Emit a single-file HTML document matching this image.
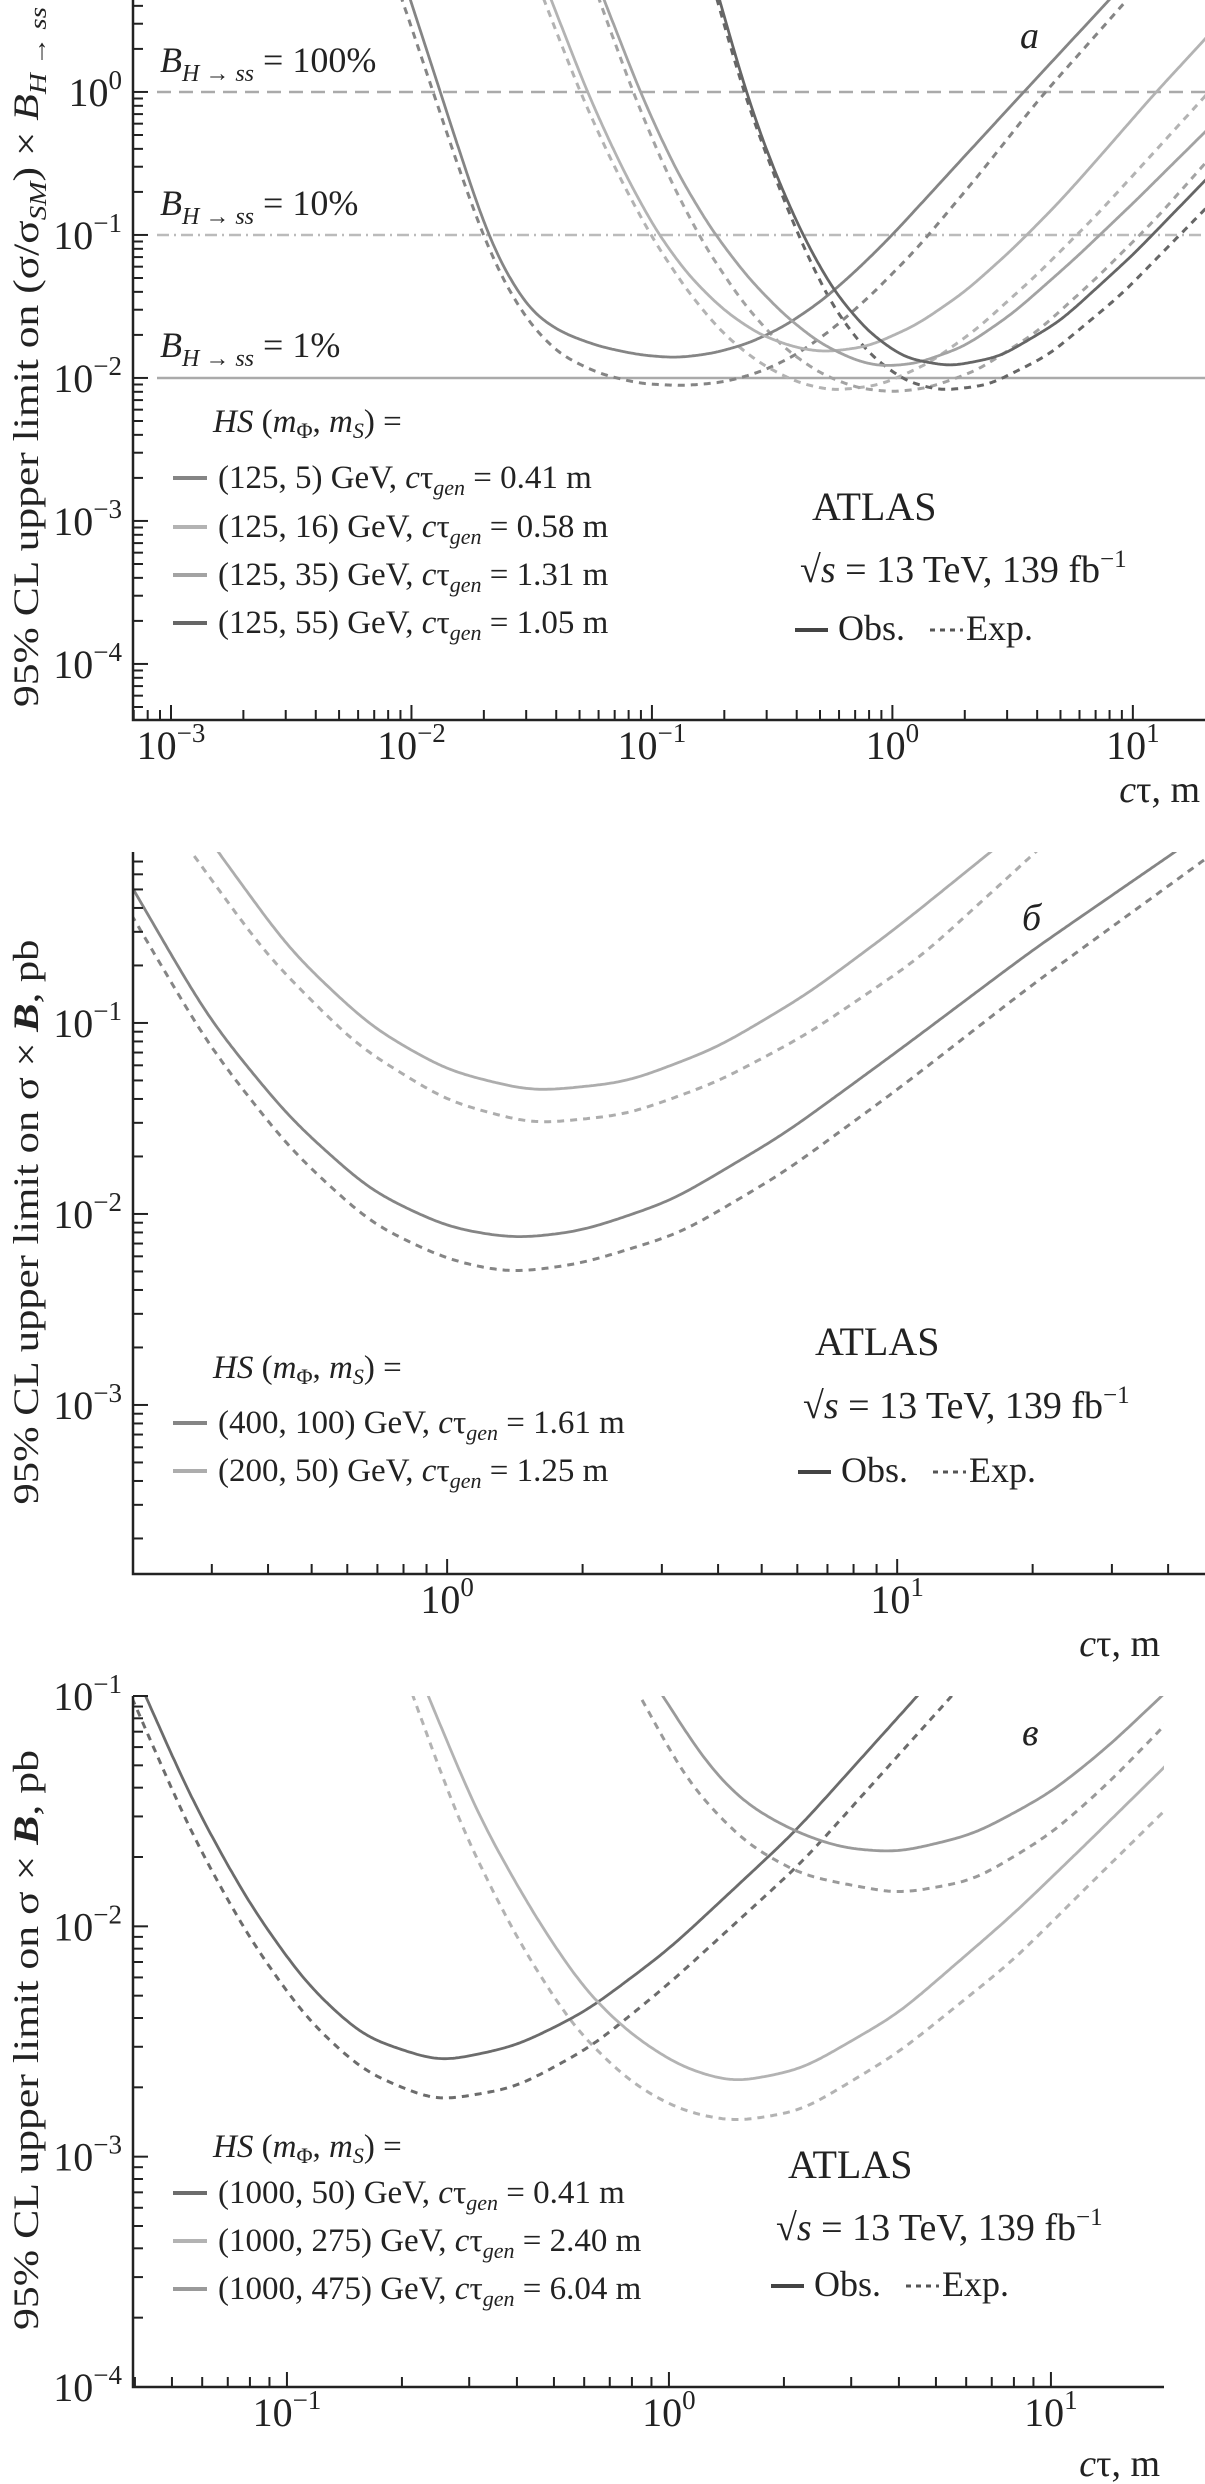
<!DOCTYPE html>
<html><head><meta charset="utf-8"><title>ATLAS limits</title>
<style>
html,body{margin:0;padding:0;background:#fff;}
svg{display:block;font-family:"Liberation Serif",serif;}
text{fill:#222;}
</style></head>
<body>
<svg id="fig" width="1205" height="2484" viewBox="0 0 1205 2484" xmlns="http://www.w3.org/2000/svg">
<defs>
<clipPath id="clipA"><rect x="133" y="0" width="1072" height="720"/></clipPath>
<clipPath id="clipB"><rect x="133" y="852" width="1072" height="722"/></clipPath>
<clipPath id="clipC"><rect x="133" y="1696" width="1031" height="691"/></clipPath>
</defs>
<g id="layer"></g>

<g font-size="36">
<text x="160" y="72"><tspan font-style="italic">B</tspan><tspan font-size="24" dy="9" font-style="italic">H → ss</tspan><tspan dy="-9"> = 100%</tspan></text>
<text x="160" y="215"><tspan font-style="italic">B</tspan><tspan font-size="24" dy="9" font-style="italic">H → ss</tspan><tspan dy="-9"> = 10%</tspan></text>
<text x="160" y="357"><tspan font-style="italic">B</tspan><tspan font-size="24" dy="9" font-style="italic">H → ss</tspan><tspan dy="-9"> = 1%</tspan></text>
<text x="1020" y="48" font-style="italic" font-size="38">a</text>
</g>
</svg>

<script>
// ---------------- Panel a data (log10 cτ [m], log10 limit) ----------------
const aRefLines = [0, -1, -2];
const aC1ObsX = [-2.0,-1.88,-1.78,-1.69,-1.6,-1.5,-1.38,-1.22,-1.05,-0.9,-0.75,-0.6,-0.45,-0.3,-0.15,0,0.3,0.53,0.85];
const aC1ObsY = [0.62,0,-0.52,-0.97,-1.29,-1.54,-1.68,-1.78,-1.84,-1.86,-1.83,-1.76,-1.64,-1.47,-1.25,-1.0,-0.45,-0.03,0.55];
const aC1ExpX = [-2.02,-1.9,-1.8,-1.7,-1.6,-1.5,-1.38,-1.22,-1.05,-0.87,-0.7,-0.55,-0.4,-0.25,-0.1,0.1,0.35,0.61,0.9];
const aC1ExpY = [0.55,-0.05,-0.55,-1.02,-1.38,-1.64,-1.84,-1.97,-2.04,-2.055,-2.03,-1.96,-1.84,-1.66,-1.44,-1.1,-0.6,-0.05,0.5];
const aC2ObsX = [-1.42,-1.27,-1.12,-0.98,-0.85,-0.7,-0.55,-0.4,-0.28,-0.1,0.1,0.3,0.5,0.7,0.9,1.07,1.3];
const aC2ObsY = [0.65,0,-0.55,-0.98,-1.28,-1.53,-1.7,-1.79,-1.82,-1.78,-1.63,-1.4,-1.1,-0.76,-0.38,-0.05,0.37];
const aC2ExpX = [-1.45,-1.3,-1.15,-1.0,-0.85,-0.7,-0.55,-0.4,-0.25,-0.05,0.15,0.35,0.6,0.85,1.1,1.3];
const aC2ExpY = [0.65,0,-0.55,-1.02,-1.4,-1.7,-1.9,-2.03,-2.09,-2.05,-1.9,-1.66,-1.28,-0.86,-0.4,-0.03];
const aC3ObsX = [-1.2,-1.05,-0.9,-0.75,-0.6,-0.45,-0.3,-0.15,-0.05,0.1,0.3,0.5,0.75,1.0,1.3];
const aC3ObsY = [0.65,0,-0.55,-0.97,-1.3,-1.56,-1.76,-1.88,-1.92,-1.9,-1.78,-1.55,-1.18,-0.78,-0.28];
const aC3ExpX = [-1.22,-1.08,-0.93,-0.78,-0.62,-0.46,-0.3,-0.15,0,0.15,0.35,0.6,0.85,1.1,1.3];
const aC3ExpY = [0.65,0,-0.6,-1.08,-1.48,-1.78,-1.97,-2.07,-2.1,-2.07,-1.95,-1.68,-1.3,-0.88,-0.5];
const aC4ObsX = [-0.72,-0.61,-0.5,-0.38,-0.25,-0.1,0.05,0.24,0.45,0.7,1.0,1.3];
const aC4ObsY = [0.65,0,-0.52,-0.98,-1.38,-1.68,-1.86,-1.92,-1.85,-1.6,-1.14,-0.62];
const aC4ExpX = [-0.73,-0.62,-0.5,-0.38,-0.25,-0.1,0.05,0.2,0.4,0.65,0.95,1.3];
const aC4ExpY = [0.65,0,-0.55,-1.05,-1.5,-1.83,-2.02,-2.09,-2.05,-1.84,-1.42,-0.82];
const aLegendLabels = ["(125, 5) GeV, ","(125, 16) GeV, ","(125, 35) GeV, ","(125, 55) GeV, "];
const aLegendCtau = ["0.41 m","0.58 m","1.31 m","1.05 m"];

// ---------------- Panel б data ----------------
const bAObsX = [-0.70,-0.53,-0.35,-0.17,0.0,0.15,0.3,0.5,0.75,1.0,1.3,1.62];
const bAObsY = [-0.29,-0.98,-1.5,-1.88,-2.07,-2.13,-2.09,-1.93,-1.58,-1.15,-0.62,-0.1];
const bAExpX = [-0.70,-0.53,-0.35,-0.17,0,0.14,0.3,0.52,0.75,1.0,1.3,1.68];
const bAExpY = [-0.44,-1.12,-1.66,-2.05,-2.24,-2.31,-2.26,-2.1,-1.78,-1.35,-0.8,-0.15];
const bBObsX = [-0.51,-0.35,-0.17,0,0.19,0.4,0.6,0.8,1.0,1.21];
const bBObsY = [-0.1,-0.62,-1.02,-1.25,-1.36,-1.31,-1.13,-0.85,-0.5,-0.1];
const bBExpX = [-0.57,-0.4,-0.2,0,0.19,0.4,0.6,0.8,1.05,1.31];
const bBExpY = [-0.1,-0.65,-1.12,-1.41,-1.53,-1.48,-1.31,-1.06,-0.66,-0.1];
const bLegendLabels = ["(400, 100) GeV, ","(200, 50) GeV, "];
const bLegendCtau = ["1.61 m","1.25 m"];

// ---------------- Panel в data ----------------
const cDObsX = [-1.37,-1.25,-1.1,-0.95,-0.8,-0.6,-0.4,-0.217,0,0.33,0.65];
const cDObsY = [-1,-1.45,-1.9,-2.25,-2.48,-2.59,-2.52,-2.37,-2.1,-1.59,-1.0];
const cDExpX = [-1.40,-1.25,-1.1,-0.95,-0.8,-0.61,-0.4,-0.2,0,0.35,0.74];
const cDExpY = [-1.03,-1.6,-2.05,-2.4,-2.63,-2.76,-2.7,-2.52,-2.25,-1.72,-1.0];
const cEObsX = [-0.63,-0.5,-0.35,-0.22,-0.1,0.03,0.168,0.35,0.6,0.9,1.1,1.29];
const cEObsY = [-1,-1.52,-1.96,-2.28,-2.47,-2.61,-2.68,-2.62,-2.38,-1.95,-1.63,-1.32];
const cEExpX = [-0.67,-0.55,-0.4,-0.25,-0.1,0.03,0.17,0.35,0.6,0.9,1.1,1.29];
const cEExpY = [-1,-1.55,-2.05,-2.44,-2.68,-2.8,-2.85,-2.8,-2.55,-2.15,-1.82,-1.51];
const cFObsX = [-0.016,0.1,0.2,0.33,0.45,0.6,0.8,1.0,1.15,1.29];
const cFObsY = [-1,-1.3,-1.47,-1.59,-1.66,-1.68,-1.6,-1.42,-1.22,-1.0];
const cFExpX = [-0.076,0.05,0.2,0.35,0.6,0.8,1.0,1.15,1.29];
const cFExpY = [-1,-1.38,-1.64,-1.78,-1.86,-1.8,-1.6,-1.38,-1.14];
const cLegendLabels = ["(1000, 50) GeV, ","(1000, 275) GeV, ","(1000, 475) GeV, "];
const cLegendCtau = ["0.41 m","2.40 m","6.04 m"];

const NS = "http://www.w3.org/2000/svg";
const layer = document.getElementById("layer");
function mk(tag, attrs, parent){ const e=document.createElementNS(NS,tag); for(const k in attrs) e.setAttribute(k,attrs[k]); (parent||layer).appendChild(e); return e; }

function makeAxes(p){
  p.X = u => p.x0 + (u - p.umin)/(p.umax - p.umin)*(p.x1 - p.x0);
  p.Y = v => p.y1 - (v - p.vmin)/(p.vmax - p.vmin)*(p.y1 - p.y0);
  return p;
}

function linVal(xs, ys, u){
  const n = xs.length;
  if(u <= xs[0]) return ys[0] + (u-xs[0])*(ys[1]-ys[0])/(xs[1]-xs[0]);
  if(u >= xs[n-1]) return ys[n-1] + (u-xs[n-1])*(ys[n-1]-ys[n-2])/(xs[n-1]-xs[n-2]);
  for(let i=0;i<n-1;i++){
    if(u <= xs[i+1]) return ys[i] + (u-xs[i])*(ys[i+1]-ys[i])/(xs[i+1]-xs[i]);
  }
  return ys[n-1];
}

function smoothPath(p, xs, ys){
  const sigma = 0.045, h = 0.01, K = 14;
  const w = []; let ws = 0;
  for(let k=-K;k<=K;k++){ const t = Math.exp(-0.5*Math.pow(k*h/sigma,2)); w.push(t); ws += t; }
  const u0 = xs[0]-0.06, u1 = xs[xs.length-1]+0.06;
  let d = "";
  for(let u=u0; u<=u1+1e-9; u+=0.005){
    let s = 0;
    for(let k=-K;k<=K;k++) s += w[k+K]*linVal(xs,ys,u+k*h);
    s /= ws;
    d += (d===""?"M":" L") + p.X(u).toFixed(1)+","+p.Y(s).toFixed(1);
  }
  return d;
}

function drawCurve(p, g, xs, ys, color, dashed, name){
  const path = mk("path",{d:smoothPath(p,xs,ys),fill:"none",stroke:color,"stroke-width":dashed?3:2.8,"stroke-dasharray":dashed?"7 6":"none","stroke-linejoin":"round"},g);
  
  
}

function expLabel(x, y, e, anchor, parent, name){
  const t = mk("text",{x:x,y:y,"font-size":40,"text-anchor":anchor},parent);
  
  
  const a = mk("tspan",{},t); a.textContent="10";
  const b = mk("tspan",{dy:-17,"font-size":27},t); b.textContent = e<0 ? "−"+(-e) : String(e);
  return t;
}

function drawAxes(p, gname){
  const g = mk("g",{});
  
  
  const ax = mk("path",{d:`M${p.x0},${p.y0} V${p.y1} H${p.x1}`,fill:"none",stroke:"#222","stroke-width":2.5},g);
  
  
  for(let d=Math.floor(p.umin); d<=Math.ceil(p.umax); d++){
    for(let k=1;k<=9;k++){
      const u = d+Math.log10(k);
      if(u<p.umin-1e-6 || u>p.umax) continue;
      const x=p.X(u), len = k===1?15:10;
      mk("line",{x1:x,y1:p.y1,x2:x,y2:p.y1-len,stroke:"#222","stroke-width":2},g);
      if(k===1) expLabel(x, p.y1+39, d, "middle", g, "x-tick-label");
    }
  }
  for(let d=Math.floor(p.vmin); d<=Math.ceil(p.vmax); d++){
    for(let k=1;k<=9;k++){
      const v = d+Math.log10(k);
      if(v<p.vmin || v>p.vmax+1e-6) continue;
      const y=p.Y(v), len = k===1?15:10;
      mk("line",{x1:p.x0,y1:y,x2:p.x0+len,y2:y,stroke:"#222","stroke-width":2},g);
      if(k===1 && p.showY(d)) expLabel(122, y+14, d, "end", g, "y-tick-label");
    }
  }
  const xt = mk("text",{x:p.xtitleX,y:p.xtitleY,"font-size":38,"text-anchor":"end"},g);
  
  
  const c1 = mk("tspan",{"font-style":"italic"},xt); c1.textContent="c";
  const c2 = mk("tspan",{},xt); c2.textContent="τ, m";
  return g;
}

function yTitle(cy, len, html, name){
  const t = mk("text",{x:0,y:0,"font-size":36,"text-anchor":"middle",transform:`translate(38,${cy}) rotate(-90)`,textLength:len,lengthAdjust:"spacingAndGlyphs"});
  
  
  t.innerHTML = html;
}

function legend(x, yHead, ys, labels, ctaus, colors, prefix){
  const g = mk("g",{"font-size":33});
  
  
  const h = mk("text",{x:x+40,y:yHead},g);
  
  
  h.innerHTML = '<tspan font-style="italic">HS</tspan> (<tspan font-style="italic">m</tspan><tspan font-size="22" dy="6">Φ</tspan><tspan dy="-6">, </tspan><tspan font-style="italic">m</tspan><tspan font-size="22" dy="6" font-style="italic">S</tspan><tspan dy="-6">) =</tspan>';
  labels.forEach((lab,i)=>{
    const ln = mk("line",{x1:x,y1:ys[i]-10,x2:x+34,y2:ys[i]-10,stroke:colors[i],"stroke-width":4},g);
    
    
    const t = mk("text",{x:x+45,y:ys[i]},g);
    
    
    t.innerHTML = lab + '<tspan font-style="italic">c</tspan>τ<tspan font-size="22" dy="7" font-style="italic">gen</tspan><tspan dy="-7"> = '+ctaus[i]+'</tspan>';
  });
}

function atlasBlock(x, yAtlas, ySqrt, yObs, prefix){
  const g = mk("g",{"font-size":40});
  
  
  const a = mk("text",{x:x+12,y:yAtlas},g); a.textContent="ATLAS";
   
  const s = mk("text",{x:x,y:ySqrt,"font-size":38},g);
   
  s.innerHTML = '√<tspan font-style="italic">s</tspan> = 13 TeV, 139 fb<tspan font-size="25" dy="-15">−1</tspan>';
  const l1 = mk("line",{x1:x-5,y1:yObs-10,x2:x+28,y2:yObs-10,stroke:"#444","stroke-width":4},g);
   
  const o = mk("text",{x:x+38,y:yObs,"font-size":36},g); o.textContent="Obs.";
   
  const l2 = mk("line",{x1:x+130,y1:yObs-10,x2:x+163,y2:yObs-10,stroke:"#555","stroke-width":3,"stroke-dasharray":"5 5"},g);
   
  const e = mk("text",{x:x+166,y:yObs,"font-size":36},g); e.textContent="Exp.";
   
}

// ===== Panel a =====
const pA = makeAxes({x0:133,x1:1205,y0:0,y1:720,umin:-3.158,umax:1.3,vmin:-4.392,vmax:0.643,showY:d=>true,xtitleX:1200,xtitleY:802});
const gA = mk("g",{"clip-path":"url(#clipA)"});


const refStyles = [["#aaa","14 8"],["#bbb","12 5 2 5"],["#aaa","none"]];
aRefLines.forEach((v,i)=>{
  const l = mk("line",{x1:157,x2:1205,y1:pA.Y(v),y2:pA.Y(v),stroke:refStyles[i][0],"stroke-width":2.5,"stroke-dasharray":refStyles[i][1]},gA);
  
  
});
const aColors = ["#858585","#b3b3b3","#a3a3a3","#666"];
drawCurve(pA,gA,aC1ExpX,aC1ExpY,aColors[0],true,"exp-125-5");
drawCurve(pA,gA,aC2ExpX,aC2ExpY,aColors[1],true,"exp-125-16");
drawCurve(pA,gA,aC3ExpX,aC3ExpY,aColors[2],true,"exp-125-35");
drawCurve(pA,gA,aC4ExpX,aC4ExpY,aColors[3],true,"exp-125-55");
drawCurve(pA,gA,aC1ObsX,aC1ObsY,aColors[0],false,"obs-125-5");
drawCurve(pA,gA,aC2ObsX,aC2ObsY,aColors[1],false,"obs-125-16");
drawCurve(pA,gA,aC3ObsX,aC3ObsY,aColors[2],false,"obs-125-35");
drawCurve(pA,gA,aC4ObsX,aC4ObsY,aColors[3],false,"obs-125-55");
drawAxes(pA,"panel-a-axes");
yTitle(357, 700, '95% CL upper limit on (σ/σ<tspan font-size="24" dy="8" font-style="italic">SM</tspan><tspan dy="-8">) × </tspan><tspan font-style="italic">B</tspan><tspan font-size="24" dy="8" font-style="italic">H → ss</tspan>', "panel-a-y-title");
legend(173, 432, [488,537,585,633], aLegendLabels, aLegendCtau, aColors, "panel-a");
atlasBlock(800, 520, 582, 640, "panel-a");

// ===== Panel б =====
const pB = makeAxes({x0:133,x1:1205,y0:852,y1:1574,umin:-0.698,umax:1.684,vmin:-3.885,vmax:-0.105,showY:d=>true,xtitleX:1160,xtitleY:1656});
const gB = mk("g",{"clip-path":"url(#clipB)"});


const bColors = ["#858585","#adadad"];
drawCurve(pB,gB,bAExpX,bAExpY,bColors[0],true,"exp-400-100");
drawCurve(pB,gB,bBExpX,bBExpY,bColors[1],true,"exp-200-50");
drawCurve(pB,gB,bAObsX,bAObsY,bColors[0],false,"obs-400-100");
drawCurve(pB,gB,bBObsX,bBObsY,bColors[1],false,"obs-200-50");
drawAxes(pB,"panel-b-axes");
yTitle(1222, 565, '95% CL upper limit on σ × <tspan font-style="italic" font-weight="bold">B</tspan>, pb', "panel-b-y-title");
legend(173, 1378, [1433,1481], bLegendLabels, bLegendCtau, bColors, "panel-b");
atlasBlock(803, 1355, 1418, 1482, "panel-b");
{ const t = mk("text",{x:1022,y:930,"font-size":38,"font-style":"italic"}); t.textContent="б";
    }

// ===== Panel в =====
const pC = makeAxes({x0:133,x1:1164,y0:1696,y1:2387,umin:-1.403,umax:1.296,vmin:-4,vmax:-1,showY:d=>true,xtitleX:1160,xtitleY:2476});
const gC = mk("g",{"clip-path":"url(#clipC)"});


const cColors = ["#6c6c6c","#b3b3b3","#9a9a9a"];
drawCurve(pC,gC,cDExpX,cDExpY,cColors[0],true,"exp-1000-50");
drawCurve(pC,gC,cEExpX,cEExpY,cColors[1],true,"exp-1000-275");
drawCurve(pC,gC,cFExpX,cFExpY,cColors[2],true,"exp-1000-475");
drawCurve(pC,gC,cDObsX,cDObsY,cColors[0],false,"obs-1000-50");
drawCurve(pC,gC,cEObsX,cEObsY,cColors[1],false,"obs-1000-275");
drawCurve(pC,gC,cFObsX,cFObsY,cColors[2],false,"obs-1000-475");
drawAxes(pC,"panel-c-axes");
yTitle(2040, 580, '95% CL upper limit on σ × <tspan font-style="italic" font-weight="bold">B</tspan>, pb', "panel-c-y-title");
legend(173, 2157, [2203,2251,2299], cLegendLabels, cLegendCtau, cColors, "panel-c");
atlasBlock(776, 2178, 2240, 2296, "panel-c");
{ const t = mk("text",{x:1022,y:1745,"font-size":38,"font-style":"italic"}); t.textContent="в";
    }
</script>
</body></html>
